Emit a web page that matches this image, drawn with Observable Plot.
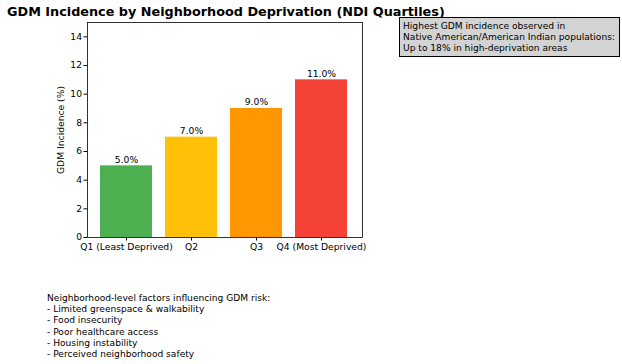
<!DOCTYPE html>
<html>
<head>
<meta charset="utf-8">
<script src="https://cdn.jsdelivr.net/npm/d3@7"></script>
<script src="https://cdn.jsdelivr.net/npm/@observablehq/plot@0.6"></script>
<style>
  html, body { margin: 0; padding: 0; background: #fff; }
  #wrap { position: relative; width: 622px; height: 364px; font-family: "DejaVu Sans", sans-serif; overflow: hidden; }
  #title { position: absolute; left: 7px; top: 4px; font-size: 12.8px; line-height: 15px; font-weight: bold; white-space: nowrap; color: #000; }
  #note { position: absolute; left: 399px; top: 17px; width: 213px; height: 34px; padding: 3px 3px 1px 3px; background: #d3d3d3; border: 1px solid #000; font-size: 9.1px; line-height: 11.2px; white-space: nowrap; color: #000; }
  #factors { position: absolute; left: 47px; top: 293px; font-size: 9.1px; line-height: 11.2px; white-space: pre; color: #000; }
  #chart { position: absolute; left: 0; top: 0; }
</style>
</head>
<body>
<div id="wrap">
  <div id="chart"></div>
  <div id="title"></div>
  <div id="note"></div>
  <div id="factors"></div>
</div>
<script>
const titleText = "GDM Incidence by Neighborhood Deprivation (NDI Quartiles)";
const categories = ["Q1 (Least Deprived)", "Q2", "Q3", "Q4 (Most Deprived)"];
const incidence = [5.0, 7.0, 9.0, 11.0];
const barColors = ["#4CAF50", "#FFC107", "#FF9800", "#F44336"];
const yTicks = [0, 2, 4, 6, 8, 10, 12, 14];
const yLabel = "GDM Incidence (%)";
const noteLines = [
  "Highest GDM incidence observed in",
  "Native American/American Indian populations:",
  "Up to 18% in high-deprivation areas"
];
const factorLines = [
  "Neighborhood-level factors influencing GDM risk:",
  "- Limited greenspace & walkability",
  "- Food insecurity",
  "- Poor healthcare access",
  "- Housing instability",
  "- Perceived neighborhood safety"
];

const data = categories.map((c, i) => ({cat: c, value: incidence[i], color: barColors[i]}));

const chart = Plot.plot({
  width: 622,
  height: 364,
  marginTop: 22,
  marginBottom: 127,
  marginLeft: 87,
  marginRight: 260,
  style: {fontFamily: "DejaVu Sans, sans-serif", fontSize: "9px", color: "#000", background: "transparent"},
  x: {domain: categories, paddingInner: 0.2, paddingOuter: 0.19, align: 0.45},
  y: {domain: [0, 15]},
  marks: [
    Plot.barY(data, {x: "cat", y: "value", fill: "color"}),
    Plot.text(data, {x: "cat", y: "value", text: d => d.value.toFixed(1) + "%", dy: -6, fill: "#000", fontSize: 9.2}),
    Plot.frame({stroke: "#000", strokeWidth: 0.8}),
    Plot.axisY({ticks: yTicks, tickSize: 3.5, tickPadding: 2, fontSize: 9.2, label: yLabel, labelAnchor: "center", labelArrow: "none", labelOffset: 30}),
    Plot.axisX({tickSize: 3.5, tickPadding: 2, fontSize: 9.2, label: null})
  ]
});
document.getElementById("chart").appendChild(chart);
document.getElementById("title").textContent = titleText;
document.getElementById("note").innerHTML = noteLines.map(s => s.replace(/&/g, "&amp;").replace(/</g, "&lt;")).join("<br>");
document.getElementById("factors").textContent = factorLines.join("\n");
</script>
</body>
</html>
